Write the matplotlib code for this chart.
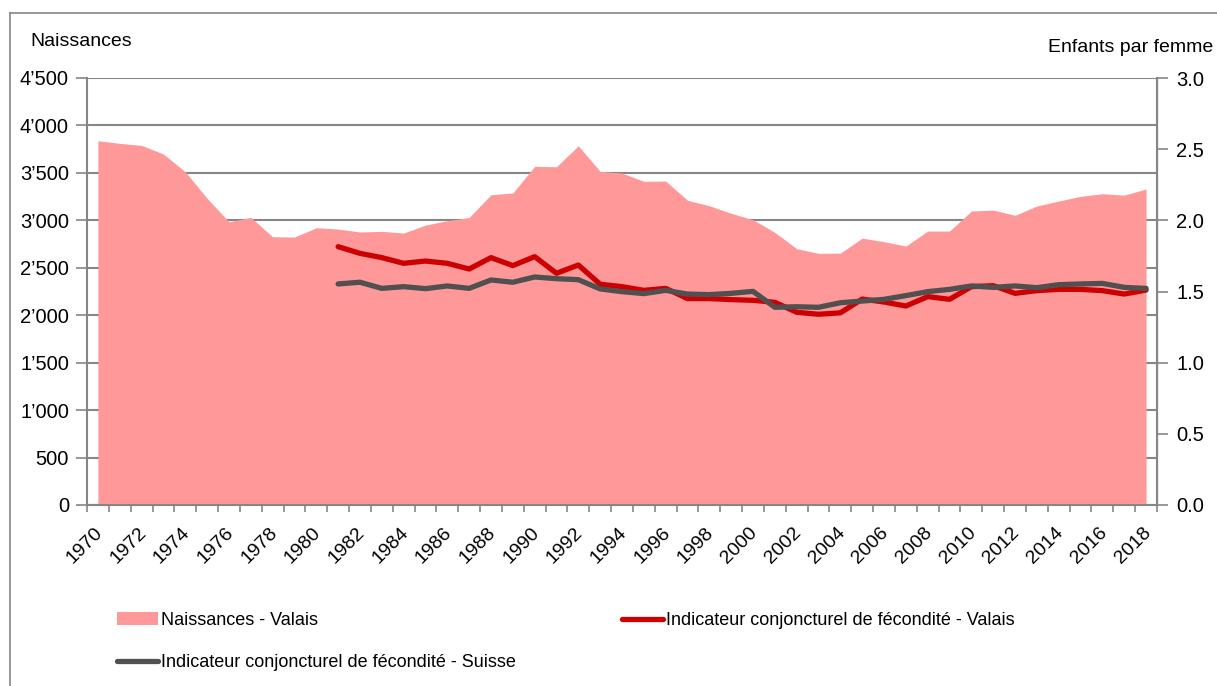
import matplotlib
matplotlib.use("Agg")
import matplotlib.pyplot as plt
from matplotlib.lines import Line2D
from matplotlib.patches import Patch
from matplotlib.ticker import FuncFormatter
from matplotlib.transforms import ScaledTranslation

plt.rcParams['font.family'] = ['Liberation Sans', 'DejaVu Sans']

years = list(range(1970, 2019))
naissances_valais = [3839, 3811, 3790, 3699, 3512, 3232, 2985, 3031, 2827, 2824,
                     2922, 2908, 2877, 2884, 2866, 2950, 2996, 3030, 3270, 3288,
                     3569, 3565, 3786, 3516, 3498, 3411, 3414, 3211, 3154, 3074,
                     3006, 2873, 2701, 2652, 2654, 2813, 2775, 2729, 2887, 2887,
                     3098, 3108, 3053, 3151, 3203, 3253, 3280, 3266, 3330]
icf_years = list(range(1981, 2019))
icf_valais = [1.815, 1.768, 1.738, 1.698, 1.714, 1.698, 1.658, 1.738, 1.682, 1.745,
              1.628, 1.686, 1.551, 1.534, 1.508, 1.522, 1.450, 1.450, 1.443, 1.438,
              1.424, 1.354, 1.340, 1.350, 1.447, 1.426, 1.398, 1.464, 1.445, 1.534,
              1.541, 1.487, 1.506, 1.515, 1.515, 1.506, 1.482, 1.510]
icf_suisse = [1.553, 1.565, 1.522, 1.534, 1.520, 1.539, 1.522, 1.581, 1.565, 1.602,
              1.590, 1.583, 1.518, 1.499, 1.485, 1.508, 1.482, 1.478, 1.487, 1.501,
              1.389, 1.393, 1.389, 1.421, 1.433, 1.445, 1.471, 1.499, 1.515, 1.539,
              1.529, 1.539, 1.527, 1.548, 1.553, 1.557, 1.529, 1.522]
left_ticks = [0, 500, 1000, 1500, 2000, 2500, 3000, 3500, 4000, 4500]
right_ticks = [0.0, 0.5, 1.0, 1.5, 2.0, 2.5, 3.0]

area_col = '#FF9999'
red_col = '#CC0000'
grey_col = '#505050'
axis_col = '#868686'

fig = plt.figure(figsize=(12.17, 6.86), dpi=100)
ax = fig.add_axes([87/1217, 1-505/686, (1157-87)/1217, (505-78)/686])
ax2 = ax.twinx()

x_all = list(range(len(years)))
x_icf = [years.index(y) for y in icf_years]

ax.fill_between(x_all, naissances_valais, 0, color=area_col, linewidth=0, zorder=2)
ax.set_ylim(0, 4500)
ax.set_yticks(left_ticks)
ax.yaxis.set_major_formatter(FuncFormatter(lambda v, p: f"{int(v):,}".replace(',', '\u2019')))
ax.grid(axis='y', color=axis_col, linewidth=1.5, zorder=0)
ax.set_axisbelow(True)
ax.set_xlim(-0.5, len(years) - 0.5)

# category boundaries ticks
ax.set_xticks([i - 0.5 for i in range(len(years) + 1)])
ax.set_xticklabels([])
ax.tick_params(axis='x', which='major', direction='out', length=5, color=axis_col, width=1.2)
ax.set_xticks(x_all[::2], minor=True)
ax.set_xticklabels([str(y) for y in years[::2]], minor=True, rotation=45,
                   ha='right', rotation_mode='anchor', fontsize=14)
ax.tick_params(axis='x', which='minor', length=0, pad=8)
off = ScaledTranslation(-4/100, -8/100, fig.dpi_scale_trans)
for lab in ax.get_xticklabels(minor=True):
    lab.set_transform(lab.get_transform() + off)
ax.tick_params(axis='y', direction='out', length=8, color=axis_col, width=1.2,
               labelsize=14.5, pad=5)

for s in ['top']:
    ax.spines[s].set_visible(False)
    ax2.spines[s].set_visible(False)
for s in ['left', 'bottom']:
    ax.spines[s].set_color(axis_col)
    ax.spines[s].set_linewidth(1.5)
ax2.spines['right'].set_color(axis_col)
ax2.spines['right'].set_linewidth(1.5)
ax2.spines['left'].set_visible(False)
ax2.spines['bottom'].set_visible(False)

ax2.plot(x_icf, icf_valais, color=red_col, linewidth=3.8, solid_capstyle='round',
         solid_joinstyle='round', zorder=3)
ax2.plot(x_icf, icf_suisse, color=grey_col, linewidth=3.8, solid_capstyle='round',
         solid_joinstyle='round', zorder=4)
ax2.set_ylim(0, 3.0)
ax2.set_yticks(right_ticks)
ax2.yaxis.set_major_formatter(FuncFormatter(lambda v, p: f"{v:.1f}"))
ax2.tick_params(axis='y', direction='out', length=8, color=axis_col, width=1.2,
                labelsize=14.5, pad=6)

fig.text(30/1217, 1-42/686, 'Naissances', fontsize=14, va='center', ha='left')
fig.text(1213/1217, 1-48/686, 'Enfants par femme', fontsize=14, va='center', ha='right')

# outer frame (top and left)
fig.add_artist(Line2D([10/1217, 10/1217], [0, 1-13/686], transform=fig.transFigure,
                      color=axis_col, linewidth=1.2))
fig.add_artist(Line2D([10/1217, 1], [1-13/686, 1-13/686], transform=fig.transFigure,
                      color=axis_col, linewidth=1.2))

h_area = Patch(facecolor=area_col, edgecolor='none')
h_val = Line2D([], [], color=red_col, linewidth=3.8, solid_capstyle='round')
h_sui = Line2D([], [], color=grey_col, linewidth=3.8, solid_capstyle='round')
leg_font = {'family': ['Liberation Sans'], 'size': 13}
leg1 = fig.legend([h_area, h_sui],
                  ['Naissances - Valais',
                   'Indicateur conjoncturel de fécondité - Suisse'],
                  loc='upper left', bbox_to_anchor=(117/1217, 1-612/686),
                  frameon=False, prop=leg_font, handlelength=2.25, handletextpad=0.2,
                  labelspacing=1.4, borderaxespad=0, borderpad=0)
leg2 = fig.legend([h_val],
                  ['Indicateur conjoncturel de fécondité - Valais'],
                  loc='upper left', bbox_to_anchor=(622/1217, 1-612/686),
                  frameon=False, prop=leg_font, handlelength=2.25, handletextpad=0.2,
                  borderaxespad=0, borderpad=0)

fig.savefig('out.png', dpi=100)
